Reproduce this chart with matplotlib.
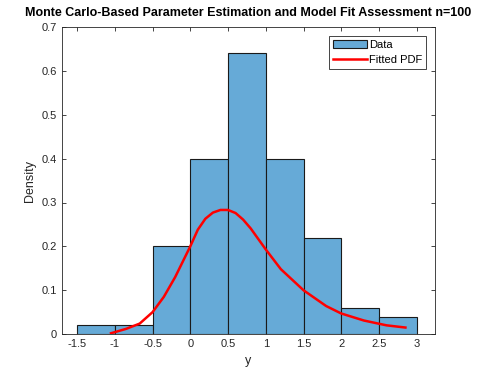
import numpy as np
import matplotlib
matplotlib.use("Agg")
import matplotlib.pyplot as plt

plt.rcParams['font.family'] = ['Liberation Sans', 'DejaVu Sans']

# histogram (density)
bin_edges = [-1.5, -1.0, -0.5, 0.0, 0.5, 1.0, 1.5, 2.0, 2.5, 3.0]
density = [0.02, 0.02, 0.20, 0.40, 0.64, 0.40, 0.22, 0.06, 0.04]

# fitted pdf curve
pdf_x = [-1.05, -0.85, -0.67, -0.5, -0.35, -0.2, -0.1, 0.0, 0.1, 0.2, 0.3,
         0.4, 0.5, 0.6, 0.7, 0.8, 0.9, 1.0, 1.2, 1.5, 1.8, 2.0, 2.3, 2.6, 2.85]
pdf_y = [0.002, 0.012, 0.024, 0.05, 0.085, 0.13, 0.165, 0.20, 0.238, 0.263, 0.277,
         0.283, 0.283, 0.276, 0.261, 0.241, 0.217, 0.193, 0.148, 0.100, 0.064,
         0.047, 0.031, 0.020, 0.015]

xticks = [-1.5, -1, -0.5, 0, 0.5, 1, 1.5, 2, 2.5, 3]
xticklabels = ['-1.5', '-1', '-0.5', '0', '0.5', '1', '1.5', '2', '2.5', '3']
yticks = [0, 0.1, 0.2, 0.3, 0.4, 0.5, 0.6, 0.7]
yticklabels = ['0', '0.1', '0.2', '0.3', '0.4', '0.5', '0.6', '0.7']

fig = plt.figure(figsize=(4.8, 3.75), dpi=100)
ax = fig.add_axes([0.129, 0.109, 0.777, 0.819])

widths = np.diff(bin_edges)
bars = ax.bar(bin_edges[:-1], density, width=widths, align='edge',
              color='#66AAD7', edgecolor='#1a1a1a', linewidth=0.8, label='Data')
line, = ax.plot(pdf_x, pdf_y, color='red', linewidth=1.8, label='Fitted PDF')

ax.set_xlim(-1.7, 3.24)
ax.set_ylim(0, 0.7)
ax.set_xticks(xticks)
ax.set_xticklabels(xticklabels)
ax.set_yticks(yticks)
ax.set_yticklabels(yticklabels)
ax.tick_params(direction='in', top=True, right=True, labelsize=8,
               colors='#262626', length=3, width=0.6)
for s in ax.spines.values():
    s.set_color('#262626')
    s.set_linewidth(0.6)

ax.set_xlabel('y', fontsize=9, color='#262626')
ax.set_ylabel('Density', fontsize=9, color='#262626')
ax.set_title('Monte Carlo-Based Parameter Estimation and Model Fit Assessment n=100',
             fontsize=9, fontweight='bold', pad=8)

leg = ax.legend([bars, line], ['Data', 'Fitted PDF'], loc='upper right',
                fontsize=8, fancybox=False, framealpha=1,
                edgecolor='#262626', borderpad=0.35, handlelength=3.0,
                handletextpad=0.2, borderaxespad=0.8, labelspacing=0.45)
leg.get_frame().set_linewidth(0.6)

fig.savefig('out.png', dpi=100)
